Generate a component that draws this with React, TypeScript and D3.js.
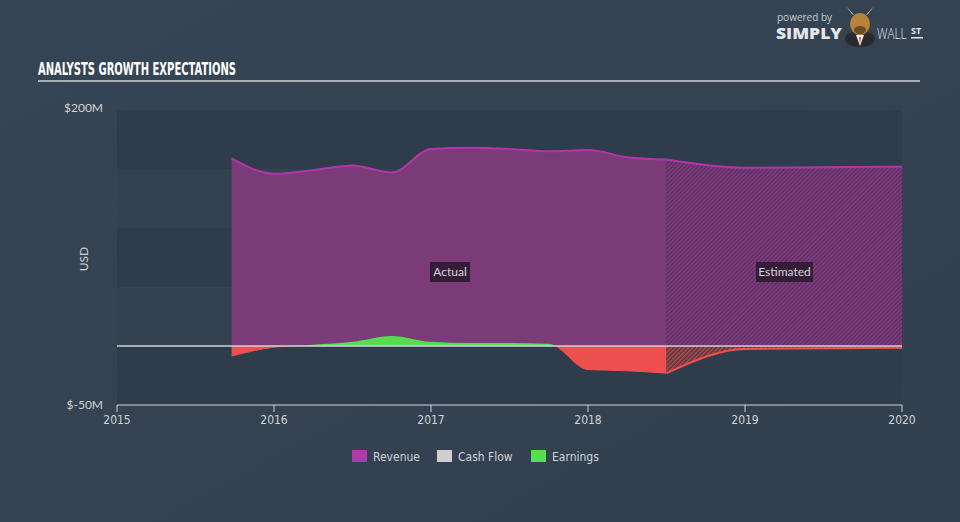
import React from "react";
import * as d3 from "d3";

const revDates = [2015.73, 2016.0, 2016.25, 2016.5, 2016.75, 2017.0, 2017.25, 2017.5, 2017.75, 2018.0, 2018.25, 2018.5];
const revenue = [159, 146, 149, 153, 147, 167, 168, 167, 165, 166, 160, 158];
const earnings = [-8.5, -1, 1, 3.5, 8.5, 3.5, 2.5, 2.5, 2, -20, -21, -23];
const estDates = [2018.5, 2019.0, 2020.0];
const revenueEst = [158, 151, 152];
const earningsEst = [-23, -2.5, -1.5];
const xTicks = [2015, 2016, 2017, 2018, 2019, 2020];
const yTickLabels = ["$200M", "$-50M"];
const legendItems = ["Revenue", "Cash Flow", "Earnings"];

const W = 960, H = 522;
const X0 = 117, X1 = 902, Y0 = 110, Y1 = 405;

export default function App() {
  const x = d3.scaleLinear().domain([2015, 2020]).range([X0, X1]);
  const y = d3.scaleLinear().domain([-50, 200]).range([Y1, Y0]);
  const zero = y(0);

  type P = [number, number];
  const act = (vals: number[]): P[] => revDates.map((d, i) => [d, vals[i]]);
  const est = (vals: number[]): P[] => estDates.map((d, i) => [d, vals[i]]);

  const area = d3.area<P>().x(d => x(d[0])).y0(zero).y1(d => y(d[1])).curve(d3.curveMonotoneX);
  const line = d3.line<P>().x(d => x(d[0])).y(d => y(d[1])).curve(d3.curveMonotoneX);

  const bands = [200, 100, 0].map(v => ({ top: y(v), bottom: y(v - 50) }));
  const font = "Lato, 'Open Sans', sans-serif";
  const narrow = "'Liberation Sans Narrow', 'DejaVu Sans Condensed', sans-serif";
  const legendColors = ["#b03aa8", "#cfcfcf", "#55e04f"];
  const legendX = [352, 437, 531];

  return (
    <svg width={W} height={H} style={{ position: "absolute", left: 0, top: 0 }} fontFamily={font}>
      <defs>
        <linearGradient id="bg" x1="0" y1="0" x2="1" y2="1">
          <stop offset="0" stopColor="#364555" />
          <stop offset="1" stopColor="#323f4e" />
        </linearGradient>
        <pattern id="hatchRev" width="3" height="3" patternUnits="userSpaceOnUse" patternTransform="rotate(45)">
          <rect width="3" height="3" fill="#5a3061" />
          <rect width="1.5" height="3" fill="#843b80" />
        </pattern>
        <pattern id="hatchRed" width="3" height="3" patternUnits="userSpaceOnUse" patternTransform="rotate(45)">
          <rect width="3" height="3" fill="#4a3a44" />
          <rect width="1.5" height="3" fill="#b8474a" />
        </pattern>
        <clipPath id="above"><rect x={0} y={0} width={W} height={zero} /></clipPath>
        <clipPath id="below"><rect x={0} y={zero} width={W} height={H - zero} /></clipPath>
      </defs>
      <rect width={W} height={H} fill="url(#bg)" />

      {/* logo */}
      <text x={777} y={21} fontSize={10} fill="#c8cdd3" fontFamily="'Open Sans', sans-serif">powered by</text>
      <text x={776} y={39} fontSize={15} fontWeight={800} fill="#e4e6e9" fontFamily="'Open Sans', sans-serif" textLength={66} lengthAdjust="spacingAndGlyphs">SIMPLY</text>
      <g>
        <ellipse cx={860} cy={39} rx={15} ry={8} fill="#2a2a2e" />
        <path d="M852 14 L846 6 L854 15 Z" fill="#e5e1d6" />
        <path d="M868 14 L874 6 L866 15 Z" fill="#e5e1d6" />
        <ellipse cx={860} cy={24} rx={10} ry={11} fill="#b8823a" />
        <ellipse cx={860} cy={30} rx={6} ry={4} fill="#6b4a2a" />
        <path d="M856 35 L860 46 L864 35 Z" fill="#f0f0f0" />
        <path d="M859 37 L860 44 L861 37 Z" fill="#d8451e" />
      </g>
      <text transform="translate(877,39) scale(0.78,1)" fontSize={15} fontWeight={300} fill="#e4e6e9" fontFamily="'Open Sans', sans-serif">WALL</text>
      <text x={911} y={34} fontSize={9} fontWeight={700} fill="#e4e6e9" fontFamily="'Open Sans', sans-serif">ST</text>
      <rect x={911} y={37} width={12} height={1.5} fill="#e4e6e9" />

      {/* title */}
      <text x={38} y={75} fontSize={17} fontWeight={700} fill="#ffffff" fontFamily={narrow} textLength={198} lengthAdjust="spacingAndGlyphs">ANALYSTS GROWTH EXPECTATIONS</text>
      <rect x={38} y={80} width={882} height={2} fill="#a7adb4" />

      {/* plot bands */}
      <rect x={X0} y={Y0} width={X1 - X0} height={Y1 - Y0} fill="#334251" />
      {bands.map((b, i) => (
        <rect key={i} x={X0} y={b.top} width={X1 - X0} height={b.bottom - b.top} fill="#2e3c4b" />
      ))}

      {/* revenue */}
      <path d={area(act(revenue)) || ""} fill="#7b3a78" />
      <path d={area(est(revenueEst)) || ""} fill="url(#hatchRev)" />
      <path d={line(act(revenue)) || ""} fill="none" stroke="#b236a9" strokeWidth={2} />
      <path d={line(est(revenueEst)) || ""} fill="none" stroke="#b236a9" strokeWidth={2} />

      {/* earnings */}
      <g clipPath="url(#above)">
        <path d={area(act(earnings)) || ""} fill="#55dd4f" />
      </g>
      <g clipPath="url(#below)">
        <path d={area(act(earnings)) || ""} fill="#ee5050" />
        <path d={area(est(earningsEst)) || ""} fill="url(#hatchRed)" />
        <path d={line(est(earningsEst)) || ""} fill="none" stroke="#ee5050" strokeWidth={2} />
        <path d={line(act(earnings)) || ""} fill="none" stroke="#ee5050" strokeWidth={1} />
      </g>

      {/* zero / cash flow line */}
      <line x1={X0} x2={X1} y1={zero} y2={zero} stroke="#cfd2d6" strokeWidth={1.5} />

      {/* labels */}
      <rect x={430} y={262} width={40} height={20} fill="#2d1b30" opacity={0.9} />
      <text x={450} y={276} fontSize={12} fill="#d9d4dc" textAnchor="middle">Actual</text>
      <rect x={756} y={262} width={57} height={20} fill="#2d1b30" opacity={0.9} />
      <text x={784.5} y={276} fontSize={12} fill="#d9d4dc" textAnchor="middle">Estimated</text>

      {/* y axis */}
      <text x={103} y={112} fontSize={12} fill="#d0d4d8" textAnchor="end">{yTickLabels[0]}</text>
      <text x={103} y={409} fontSize={12} fill="#d0d4d8" textAnchor="end">{yTickLabels[1]}</text>
      <text transform={`translate(88,259) rotate(-90)`} fontSize={12} fill="#d0d4d8" textAnchor="middle">USD</text>

      {/* x axis */}
      <line x1={X0} x2={X1} y1={Y1} y2={Y1} stroke="#d0d4d8" strokeWidth={1} />
      {xTicks.map(t => (
        <g key={t}>
          <line x1={x(t)} x2={x(t)} y1={Y1} y2={Y1 + 7} stroke="#d0d4d8" strokeWidth={1} />
          <text x={x(t)} y={424} fontSize={12} fill="#d0d4d8" textAnchor="middle" fontFamily={narrow}>{t}</text>
        </g>
      ))}

      {/* legend */}
      {legendItems.map((name, i) => (
        <g key={name}>
          <rect x={legendX[i]} y={450} width={15} height={12} fill={legendColors[i]} />
          <text x={legendX[i] + 21} y={461} fontSize={12} fill="#d0d4d8" fontFamily={narrow}>{name}</text>
        </g>
      ))}
    </svg>
  );
}
